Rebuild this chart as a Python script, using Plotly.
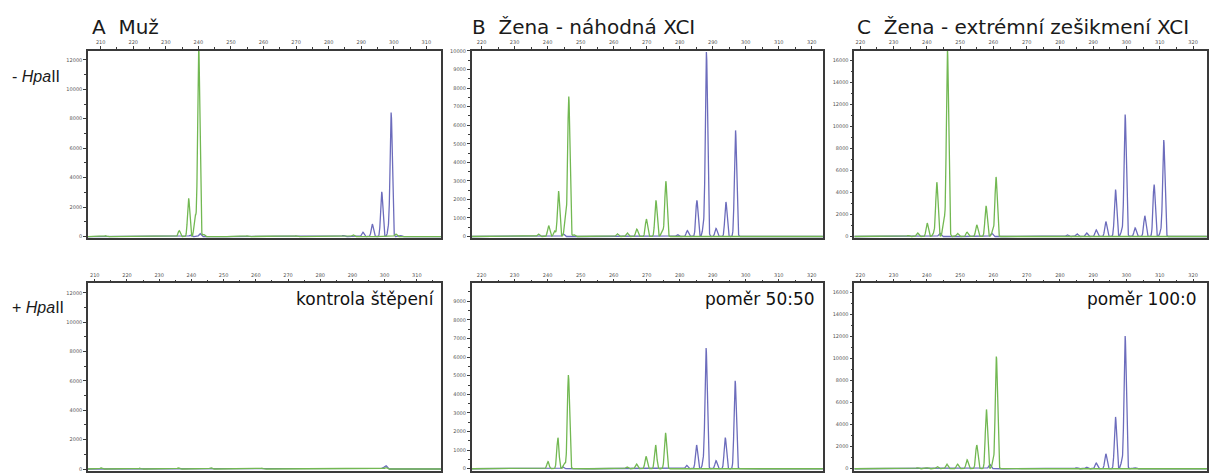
import numpy as np
import plotly.graph_objects as go

W, H = 1211, 473

# Fragment analysis traces: peak sizes (bp) and heights (RFU) for each panel
# A = male, B = female random XCI, C = female extreme skewing
# row 1 = without HpaII, row 2 = after HpaII digestion
a1_green_bp = [211.5, 222.0, 234.1, 237.0, 239.0, 240.1, 241.6, 255.0, 270.0, 287.5, 300.6]
a1_green_h = [60, 50, 400, 2600, 1400, 12900, 150, 60, 60, 120, 180]
a1_blue_bp = [237.5, 240.5, 284.5, 290.5, 293.4, 296.3, 298.4, 299.2, 302.0]
a1_blue_h = [100, 200, 80, 300, 850, 3040, 500, 8400, 80]

a2_green_bp = [212.0, 224.0, 236.0, 246.0, 262.0, 300.4]
a2_green_h = [80, 60, 80, 90, 60, 100]
a2_blue_bp = [299.5, 300.4]
a2_blue_h = [100, 220]

b1_green_bp = [237.2, 240.3, 242.1, 243.3, 245.4, 246.4, 248.0, 261.1, 264.1, 267.0,
               269.9, 272.8, 274.7, 275.8]
b1_green_h = [140, 585, 300, 2450, 1030, 7540, 100, 150, 200, 400,
              940, 1950, 350, 2980]
b1_blue_bp = [244.7, 279.3, 282.3, 285.2, 287.2, 288.1, 291.0, 294.0, 296.9]
b1_blue_h = [150, 100, 320, 1950, 500, 9950, 440, 1860, 5730]

b2_green_bp = [240.1, 243.1, 245.1, 246.3, 264.0, 266.9, 269.8, 272.7, 275.7]
b2_green_h = [390, 1670, 300, 5040, 100, 250, 660, 1280, 1935]
b2_blue_bp = [244.5, 282.1, 285.1, 287.2, 288.0, 291.0, 293.8, 296.8]
b2_blue_h = [100, 180, 1280, 400, 6470, 430, 1670, 4730]

c1_green_bp = [234.4, 237.2, 240.1, 242.1, 243.0, 245.1, 246.2, 249.2, 252.1, 255.0,
               257.8, 259.8, 260.8]
c1_green_h = [100, 330, 1230, 300, 4930, 1680, 17000, 300, 390, 1050,
              2780, 500, 5410]
c1_blue_bp = [243.9, 259.5, 282.2, 285.1, 288.0, 290.9, 293.8, 296.7, 298.6, 299.6,
              302.6, 305.5, 308.3, 310.3, 311.2]
c1_blue_h = [300, 300, 150, 250, 330, 600, 1350, 4280, 500, 11090,
             780, 1880, 4720, 400, 8760]

c2_green_bp = [237.2, 240.1, 243.1, 246.0, 249.2, 252.1, 255.0, 257.9, 259.9, 260.9]
c2_green_h = [100, 100, 200, 420, 420, 810, 2150, 5380, 600, 10170]
c2_blue_bp = [258.9, 285.0, 288.0, 290.9, 293.8, 296.7, 298.6, 299.6, 302.5]
c2_blue_h = [400, 100, 150, 510, 1350, 4700, 600, 12020, 100]

titles = ["A  Muž", "B  Žena - náhodná XCI", "C  Žena - extrémní zešikmení XCI"]
row_labels = ["- <i>Hpa</i>II", "+ <i>Hpa</i>II"]
notes = ["kontrola štěpení", "poměr 50:50", "poměr 100:0"]

GREEN = "#72b852"
BLUE = "#6c6cbc"
PEAK_SIGMA = 0.33


def electropherogram(x, positions, heights):
    y = np.zeros_like(x)
    for p, h in zip(positions, heights):
        y += h * np.exp(-0.5 * ((x - p) / PEAK_SIGMA) ** 2)
    return y


# panel geometry in pixels: (left, right) columns and (top, bottom) rows
cols_px = [(88, 441), (471.7, 823), (854.3, 1207)]
rows_px = [(48.5, 238), (283.3, 473)]

panels = [
    # (row, col, x range, y range, y label step, y minor step, green, blue)
    (0, 0, [206.1, 314.5], [-130, 12600], 2000, 1000, (a1_green_bp, a1_green_h), (a1_blue_bp, a1_blue_h)),
    (0, 1, [217.0, 323.4], [-106, 10000], 1000, 500, (b1_green_bp, b1_green_h), (b1_blue_bp, b1_blue_h)),
    (0, 2, [218.2, 324.2], [-179, 16860], 2000, 1000, (c1_green_bp, c1_green_h), (c1_blue_bp, c1_blue_h)),
    (1, 0, [207.9, 317.5], [-135, 12655], 2000, 1000, (a2_green_bp, a2_green_h), (a2_blue_bp, a2_blue_h)),
    (1, 1, [217.0, 323.4], [-122, 9967], 1000, 500, (b2_green_bp, b2_green_h), (b2_blue_bp, b2_blue_h)),
    (1, 2, [218.2, 324.2], [-206, 16800], 2000, 1000, (c2_green_bp, c2_green_h), (c2_blue_bp, c2_blue_h)),
]

fig = go.Figure()
layout = {}
tick_font = dict(family="DejaVu Sans", size=5, color="#555555")

for i, (r, c, xr, yr, ystep, yminor, green, blue) in enumerate(panels, start=1):
    xs = np.arange(xr[0], xr[1], 0.04)
    suffix = "" if i == 1 else str(i)
    xa, ya = "x" + suffix, "y" + suffix
    for (bp, h), col in ((blue, BLUE), (green, GREEN)):
        fig.add_trace(go.Scatter(
            x=xs, y=electropherogram(xs, bp, h), mode="lines",
            line=dict(color=col, width=1.3), xaxis=xa, yaxis=ya,
            showlegend=False, hoverinfo="skip",
        ))
    x0, x1 = cols_px[c]
    y0, y1 = rows_px[r]
    layout["xaxis" + suffix] = dict(
        domain=[x0 / W, x1 / W], range=xr, anchor=ya, side="top",
        showline=True, linecolor="#3a3a3a", linewidth=1.5, mirror=True,
        showgrid=False, zeroline=False, dtick=10, tick0=200,
        ticks="outside", ticklen=3, tickwidth=1, tickcolor="#3a3a3a",
        tickfont=tick_font, tickformat="d",
        minor=dict(dtick=5, tick0=200, ticks="outside", ticklen=2, tickcolor="#3a3a3a", showgrid=False),
    )
    layout["yaxis" + suffix] = dict(
        domain=[1 - y1 / H, 1 - y0 / H], range=yr, anchor=xa,
        showline=True, linecolor="#3a3a3a", linewidth=1.5, mirror=True,
        showgrid=False, zeroline=False, dtick=ystep, tick0=0,
        ticks="outside", ticklen=3, tickwidth=1, tickcolor="#3a3a3a",
        tickfont=tick_font, tickformat="d",
        minor=dict(dtick=yminor, tick0=0, ticks="outside", ticklen=2, tickcolor="#3a3a3a", showgrid=False),
    )

annotations = []
title_x = [90, 470, 855]
for t, xp in zip(titles, title_x):
    annotations.append(dict(
        text=t, x=xp / W, y=1 - 24 / H, xref="paper", yref="paper",
        xanchor="left", yanchor="middle", showarrow=False,
        font=dict(family="DejaVu Sans", size=20, color="#1a1a1a"),
    ))
for t, yp in zip(row_labels, [74, 308]):
    annotations.append(dict(
        text=t, x=10 / W, y=1 - yp / H, xref="paper", yref="paper",
        xanchor="left", yanchor="middle", showarrow=False,
        font=dict(family="Liberation Sans", size=16, color="#1a1a1a"),
    ))
for t, xp in zip(notes, [437, 817, 1199]):
    annotations.append(dict(
        text=t, x=xp / W, y=1 - 299 / H, xref="paper", yref="paper",
        xanchor="right", yanchor="middle", showarrow=False,
        font=dict(family="DejaVu Sans", size=17, color="#111111"),
    ))

fig.update_layout(
    width=W, height=H, margin=dict(l=0, r=0, t=0, b=0),
    paper_bgcolor="white", plot_bgcolor="white",
    annotations=annotations, **layout,
)

fig.write_html("out.html")
